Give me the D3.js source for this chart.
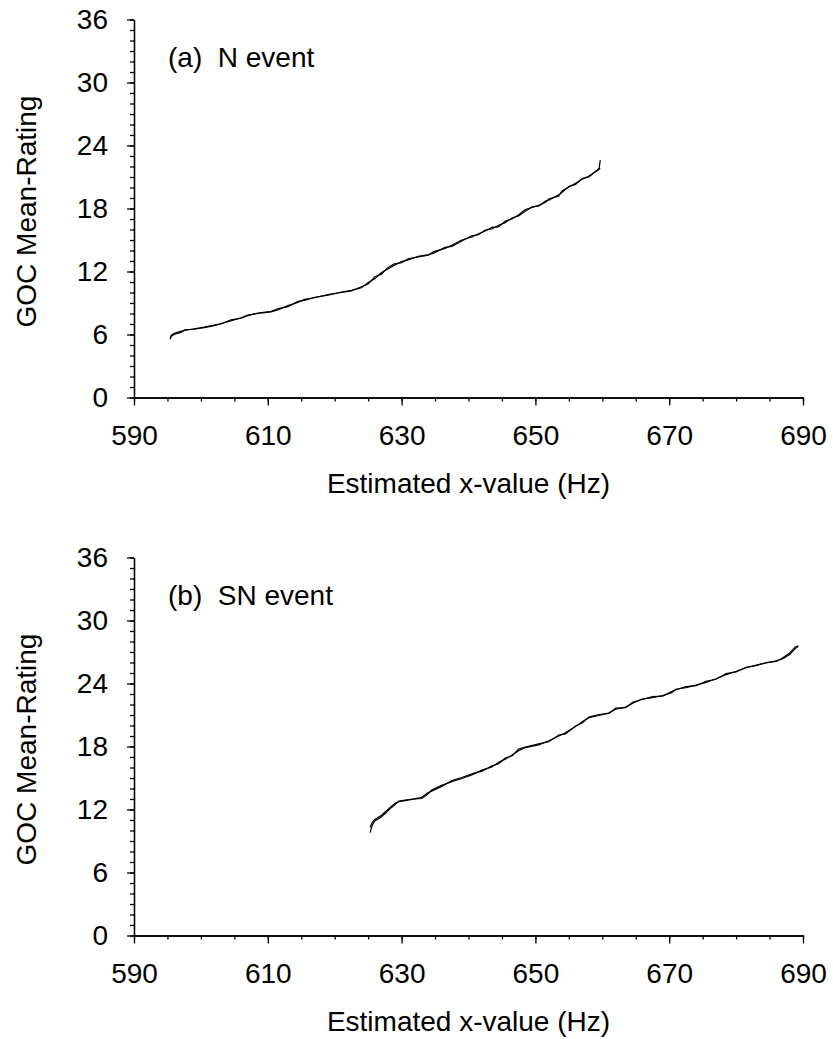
<!DOCTYPE html>
<html>
<head>
<meta charset="utf-8">
<script src="https://cdn.jsdelivr.net/npm/d3@7"></script>
<style>
body{margin:0;background:#fff}
text{font-family:Arial,"Liberation Sans",sans-serif}
</style>
</head>
<body>
<div id="chart"></div>
<script>
// tick labels
var xTicks = [590,610,630,650,670,690]
var yTicks = [0,6,12,18,24,30,36]

// (a) N event
var hzA = [595.4,595.6,596.2,597.0,597.6,599.0,600.5,602.0,603.0,604.5,606.0,607.0,608.5,610.5,611.5,613.0,614.5,615.5,617.0,619.0,621.0,622.5,624.0,625.0,626.0,627.0,627.8,628.8,630.0,631.0,632.5,634.0,634.8,636.5,637.5,639.0,640.5,641.5,642.5,643.5,644.5,645.5,646.5,647.5,648.5,649.5,650.5,651.5,652.0,653.5,654.0,655.0,656.0,657.0,658.0,659.0,659.5,659.7]
var ratA1 = [5.55,5.85,6.05,6.2,6.45,6.5,6.65,6.85,7.05,7.3,7.6,7.85,8.0,8.15,8.35,8.75,9.05,9.35,9.5,9.8,10.0,10.15,10.55,10.8,11.5,11.75,12.3,12.7,12.85,13.2,13.4,13.55,13.9,14.2,14.5,15.0,15.3,15.6,15.85,16.2,16.25,16.8,17.0,17.4,17.9,18.1,18.3,18.6,18.9,19.2,19.7,20.05,20.4,20.8,21.1,21.5,21.7,22.6]
var ratA2 = [5.7,5.95,6.15,6.3,6.4,6.55,6.7,6.9,7.0,7.4,7.55,7.8,8.05,8.2,8.45,8.65,9.15,9.25,9.55,9.75,10.05,10.2,10.45,10.95,11.3,11.9,12.2,12.55,12.95,13.1,13.45,13.6,13.75,14.3,14.4,14.9,15.4,15.5,15.95,16.05,16.4,16.65,17.1,17.3,17.75,18.15,18.25,18.7,18.8,19.3,19.55,20.1,20.3,20.85,21.0,21.55,21.8,21.8]

// (b) SN event
var hzB = [625.3,625.6,626.0,627.0,627.5,628.3,629.0,629.6,631.0,633.0,633.8,634.5,636.0,637.5,639.0,640.5,642.0,643.5,644.5,645.5,646.5,647.5,648.5,650.5,652.0,653.5,654.5,656.0,657.0,658.0,659.5,661.0,662.0,663.5,664.5,665.8,667.5,669.0,670.3,671.0,672.5,674.0,675.5,677.0,678.5,680.0,681.5,683.0,684.5,686.0,687.0,688.0,688.8,689.3]
var ratB1 = [9.8,10.5,10.9,11.3,11.6,12.1,12.45,12.8,12.95,13.05,13.4,13.85,14.3,14.65,14.95,15.3,15.75,16.05,16.5,16.8,17.2,17.6,17.9,18.15,18.55,19.0,19.3,19.9,20.35,20.75,20.95,21.2,21.55,21.75,22.1,22.5,22.65,22.85,23.1,23.45,23.6,23.85,24.1,24.45,24.85,25.15,25.5,25.75,25.95,26.15,26.35,26.75,27.3,27.55]
var ratB2 = [10.3,10.75,11.05,11.45,11.75,12.2,12.6,12.75,12.9,13.15,13.55,13.75,14.2,14.75,15.05,15.4,15.65,16.15,16.35,16.9,17.1,17.75,17.95,18.25,18.45,19.1,19.2,19.95,20.25,20.8,21.05,21.15,21.65,21.7,22.2,22.45,22.75,22.8,23.2,23.4,23.7,23.8,24.2,24.4,24.95,25.1,25.55,25.7,26.0,26.1,26.45,26.9,27.45,27.6]

var W = 833, H = 1039
var left = 134, right = 803, ph = 378

var svg = d3.select("#chart").append("svg")
    .attr("width",W)
    .attr("height",H)

var x = d3.scaleLinear().domain([590,690]).range([left,right])

function panel(top,hz,s1,s2,label){
    var y = d3.scaleLinear().domain([0,36]).range([top+ph,top])
    var g = svg.append("g")

    // minor ticks
    g.append("g")
    .attr("transform","translate(0,"+(top+ph)+")")
    .call(d3.axisBottom(x).tickValues(d3.range(590,691,5)).tickSize(4).tickFormat("").tickSizeOuter(0))
    g.append("g")
    .attr("transform","translate("+left+",0)")
    .call(d3.axisLeft(y).tickValues(d3.range(0,37,1)).tickSize(4).tickFormat("").tickSizeOuter(0))

    var xa = g.append("g")
    .attr("transform","translate(0,"+(top+ph)+")")
    .call(d3.axisBottom(x).tickValues(xTicks).tickSize(8).tickPadding(20).tickSizeOuter(0))
    var ya = g.append("g")
    .attr("transform","translate("+left+",0)")
    .call(d3.axisLeft(y).tickValues(yTicks).tickSize(7).tickPadding(19).tickSizeOuter(0))

    g.selectAll(".tick text")
    .attr("font-size","28px")
    .attr("font-family","Arial, 'Liberation Sans', sans-serif")
    .attr("fill","#000")
    g.selectAll(".domain, .tick line").attr("stroke","#000").attr("stroke-width",1.3)

    var line = d3.line().x((d,i)=>x(hz[i])).y(d=>y(d))
    ;[s2,s1].forEach(s=>{
        g.append("path")
        .datum(s)
        .attr("d",line)
        .attr("fill","none")
        .attr("stroke","#000")
        .attr("stroke-width",1.2)
    })

    g.append("text")
    .text(label)
    .attr("x",168)
    .attr("y",top+47)
    .attr("font-size","28px")
    .attr("xml:space","preserve")
    .style("white-space","pre")

    g.append("text")
    .text("GOC Mean-Rating")
    .attr("transform","translate(36,"+(top+ph/2+3)+") rotate(-90)")
    .attr("text-anchor","middle")
    .attr("font-size","28px")

    g.append("text")
    .text("Estimated x-value (Hz)")
    .attr("x",(left+right)/2)
    .attr("y",top+ph+95)
    .attr("text-anchor","middle")
    .attr("font-size","28px")
}

panel(19.5,hzA,ratA1,ratA2,"(a)  N event")
panel(557.5,hzB,ratB1,ratB2,"(b)  SN event")
</script>
</body>
</html>
